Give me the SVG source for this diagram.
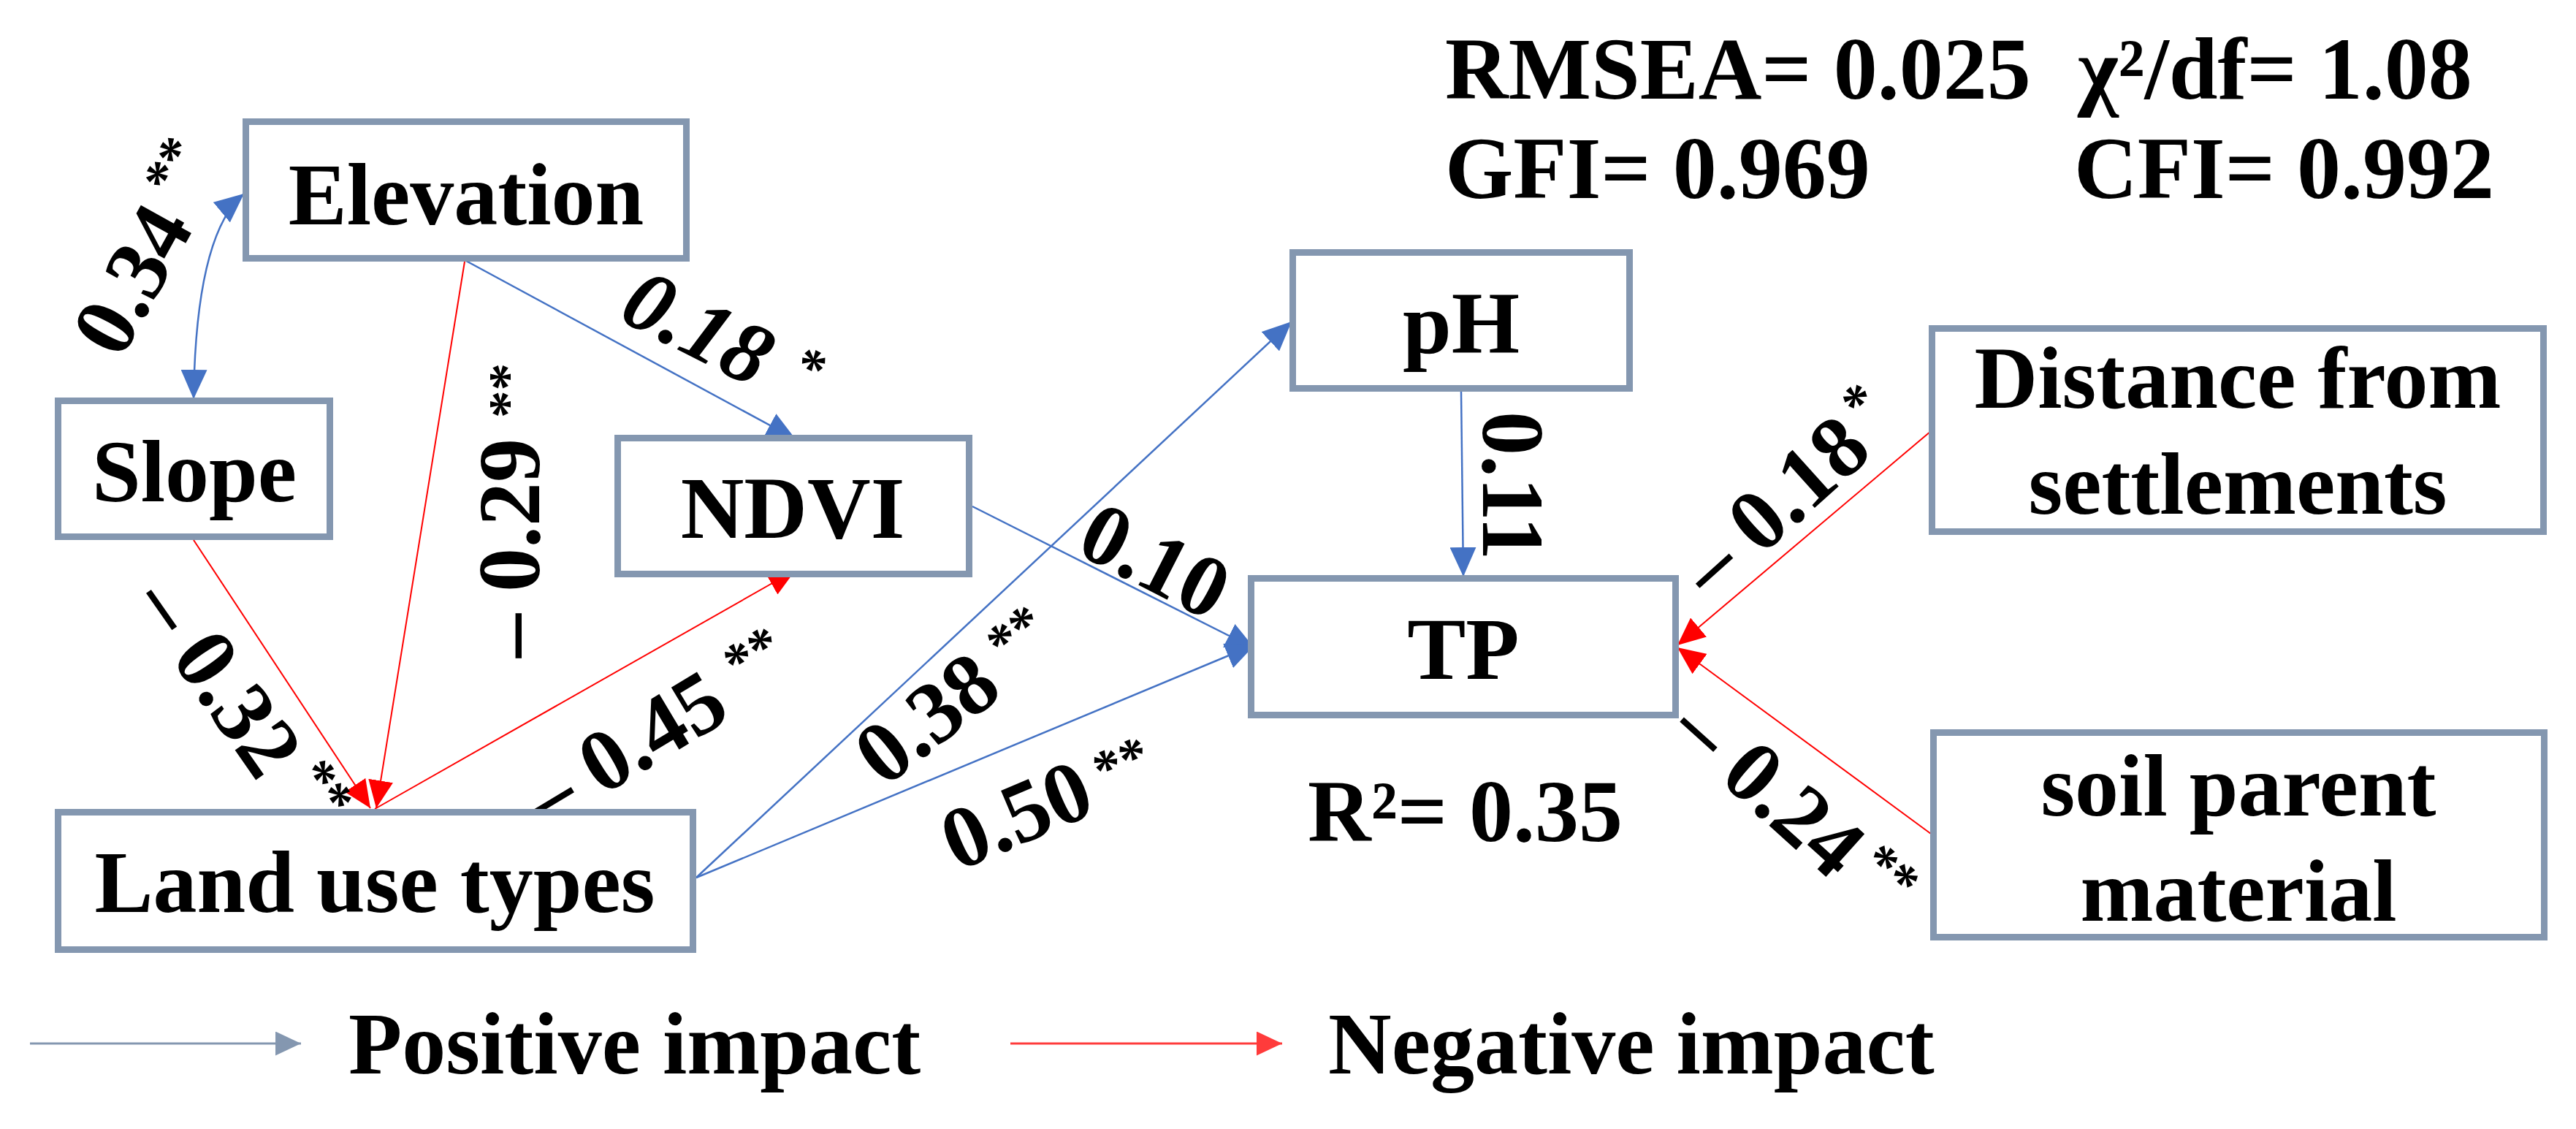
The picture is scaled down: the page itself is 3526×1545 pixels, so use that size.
<svg xmlns="http://www.w3.org/2000/svg" width="3526" height="1545" viewBox="0 0 3526 1545">
<style>
.box{fill:#fff;stroke:#8497B0;stroke-width:9}
.t{font-family:"Liberation Serif","Times New Roman",serif;font-weight:bold;font-size:120px;fill:#000}
.sup{font-size:75px;font-style:normal}
.pos{stroke:#4472C4;stroke-width:2.5;fill:none}
.neg{stroke:#FF0000;stroke-width:2;fill:none}
</style>
<defs>
<marker id="ab" viewBox="0 0 40 36" refX="40" refY="18" markerWidth="40" markerHeight="36" markerUnits="userSpaceOnUse" orient="auto"><path d="M0,0 L40,18 L0,36 z" fill="#4472C4"/></marker>
<marker id="ab2" viewBox="0 0 40 36" refX="40" refY="18" markerWidth="40" markerHeight="36" markerUnits="userSpaceOnUse" orient="auto-start-reverse"><path d="M0,0 L40,18 L0,36 z" fill="#4472C4"/></marker>
<marker id="ar" viewBox="0 0 38 34" refX="38" refY="17" markerWidth="38" markerHeight="34" markerUnits="userSpaceOnUse" orient="auto"><path d="M0,0 L38,17 L0,34 z" fill="#FF0000"/></marker>
<marker id="lg" viewBox="0 0 35 33" refX="35" refY="16.5" markerWidth="35" markerHeight="33" markerUnits="userSpaceOnUse" orient="auto"><path d="M0,0 L35,16.5 L0,33 z" fill="#8497B0"/></marker>
<marker id="lr" viewBox="0 0 35 33" refX="35" refY="16.5" markerWidth="35" markerHeight="33" markerUnits="userSpaceOnUse" orient="auto"><path d="M0,0 L35,16.5 L0,33 z" fill="#FF3B3B"/></marker>
</defs>

<g id="connectors">
<path class="pos" d="M265,546 Q268,320 334,265" marker-start="url(#ab2)" marker-end="url(#ab)"/>
<path class="pos" d="M638,357 L1089,601" marker-end="url(#ab)"/>
<path class="neg" d="M636,358 L515,1106" marker-end="url(#ar)"/>
<path class="neg" d="M265,739 L507,1106" marker-end="url(#ar)"/>
<path class="neg" d="M513,1107 L1089,780" marker-end="url(#ar)"/>
<path class="pos" d="M1331,693 L1718,888" marker-end="url(#ab)"/>
<path class="pos" d="M953,1201 L1718,882" marker-end="url(#ab)"/>
<path class="pos" d="M953,1201 L1768,440" marker-end="url(#ab)"/>
<path class="pos" d="M2000,536 L2003,789" marker-end="url(#ab)"/>
<path class="neg" d="M2643,590 L2296,883" marker-end="url(#ar)"/>
<path class="neg" d="M2643,1141 L2296,886" marker-end="url(#ar)"/>
</g>

<g id="edge-labels" class="t">
<text transform="translate(165,494) rotate(-61)">0.34<tspan class="sup" dx="20" dy="-45">**</tspan></text>
<text transform="translate(738,900) rotate(-90)">– 0.29<tspan class="sup" dx="28" dy="-18">**</tspan></text>
<text transform="translate(181,826) rotate(55)">– 0.32<tspan class="sup" dx="21" dy="-47">**</tspan></text>
<text transform="translate(746,1136) rotate(-31)">– 0.45<tspan class="sup" dx="30" dy="-36">**</tspan></text>
<text transform="translate(844,436) rotate(27)" font-style="italic">0.18<tspan class="sup" dx="19" dy="-36"> *</tspan></text>
<text transform="translate(1563,803) rotate(27)" text-anchor="middle">0.10</text>
<text transform="translate(1210,1079) rotate(-38)">0.38<tspan class="sup" dx="25" dy="-32">**</tspan></text>
<text transform="translate(1310,1193) rotate(-23)">0.50<tspan class="sup" dx="18" dy="-25">**</tspan></text>
<text transform="translate(2030,563) rotate(90)">0.11</text>
<text transform="translate(2343,822) rotate(-42)">– 0.18<tspan class="sup" dx="14" dy="-41">*</tspan></text>
<text transform="translate(2284,1006) rotate(42)">– 0.24<tspan class="sup" dx="14" dy="-39">**</tspan></text>
</g>

<g id="node-elevation"><rect class="box" x="336.5" y="166.5" width="603" height="187"/><text class="t" x="638" y="307" text-anchor="middle">Elevation</text></g>
<g id="node-slope"><rect class="box" x="79.5" y="548.5" width="372" height="186"/><text class="t" x="266" y="686" text-anchor="middle">Slope</text></g>
<g id="node-ndvi"><rect class="box" x="845.5" y="599.5" width="481" height="186"/><text class="t" x="1085" y="736" text-anchor="middle">NDVI</text></g>
<g id="node-landuse"><rect class="box" x="79.5" y="1111.5" width="869" height="188"/><text class="t" x="513" y="1248" text-anchor="middle">Land use types</text></g>
<g id="node-ph"><rect class="box" x="1769.5" y="345.5" width="461" height="186"/><text class="t" x="2000" y="483" text-anchor="middle">pH</text></g>
<g id="node-tp"><rect class="box" x="1712.5" y="791.5" width="581" height="187"/><text class="t" x="2003" y="929" text-anchor="middle">TP</text></g>
<g id="node-distance"><rect class="box" x="2644.5" y="449.5" width="837" height="278"/><text class="t" x="3063" y="558" text-anchor="middle">Distance from</text><text class="t" x="3063" y="703" text-anchor="middle">settlements</text></g>
<g id="node-soil"><rect class="box" x="2646.5" y="1002.5" width="836" height="280"/><text class="t" x="3064" y="1116" text-anchor="middle">soil parent</text><text class="t" x="3064" y="1260" text-anchor="middle">material</text></g>

<g id="fit-stats" class="t">
<text x="1978" y="135">RMSEA= 0.025</text>
<text x="2844" y="135">χ²/df= 1.08</text>
<text x="1978" y="271">GFI= 0.969</text>
<text x="2839" y="271">CFI= 0.992</text>
<text x="1790" y="1151">R²= 0.35</text>
</g>

<g id="legend">
<path d="M41,1428 L412,1428" stroke="#8497B0" stroke-width="3" marker-end="url(#lg)"/>
<text class="t" x="477" y="1469">Positive impact</text>
<path d="M1383,1428 L1755,1428" stroke="#FF3B3B" stroke-width="3" marker-end="url(#lr)"/>
<text class="t" x="1818" y="1469">Negative impact</text>
</g>
</svg>
